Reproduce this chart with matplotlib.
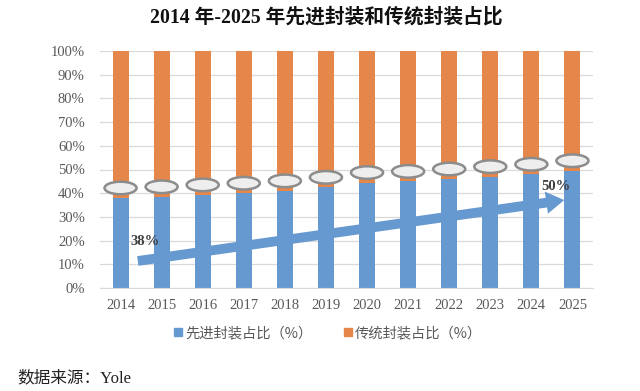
import matplotlib
matplotlib.use("Agg")
import matplotlib.pyplot as plt
from matplotlib.patches import Ellipse, FancyArrowPatch
from matplotlib.lines import Line2D
import numpy as np

years = ["2014", "2015", "2016", "2017", "2018", "2019", "2020", "2021", "2022", "2023", "2024", "2025"]
advanced = [38, 38.5, 39.3, 40, 41, 42.5, 44.5, 45, 46, 47, 48, 49.5]
traditional = [100 - a for a in advanced]
yticks = [0, 10, 20, 30, 40, 50, 60, 70, 80, 90, 100]
title = "2014 年-2025 年先进封装和传统封装占比"
legend_labels = ["先进封装占比（%）", "传统封装占比（%）"]
start_label = "38%"
end_label = "50%"
source = "数据来源：Yole"

BLUE = "#6699D0"
ORANGE = "#E5874A"
TICK = "#595959"
SERIF = ["Liberation Serif", "Noto Sans CJK SC", "DejaVu Sans"]
CJK = ["Noto Sans CJK SC", "DejaVu Sans"]

fig = plt.figure(figsize=(6.4, 3.91), dpi=100)
ax = fig.add_axes([100/640, 1-288/391, 493/640, 237/391])

x = np.arange(len(years))
ax.bar(x, advanced, width=0.39, color=BLUE, zorder=2)
ax.bar(x, traditional, bottom=advanced, width=0.39, color=ORANGE, zorder=2)

for xi, a in zip(x, advanced):
    e = Ellipse((xi, a + 4.2), width=0.78, height=5.3, facecolor="#EEEEEE",
                edgecolor="#8C8C8C", linewidth=1.8, zorder=3)
    ax.add_patch(e)

ax.set_xlim(-0.5, len(years) - 0.5)
ax.set_ylim(0, 100)
ax.set_yticks(yticks)
ax.set_yticklabels([f"{t}%" for t in yticks], family=SERIF, fontsize=10.5, color=TICK)
ax.set_xticks(x)
ax.set_xticklabels(years, family=SERIF, fontsize=10.5, color=TICK)
ax.tick_params(length=0, pad=8)
ax.tick_params(axis="y", pad=11)
ax.grid(axis="y", color="#D9D9D9", linewidth=0.9, zorder=0)
ax.set_axisbelow(True)
for s in ["top", "right", "left"]:
    ax.spines[s].set_visible(False)
ax.spines["bottom"].set_color("#D9D9D9")

arrow = FancyArrowPatch((0.42, 11.4), (10.8, 37.1),
                        arrowstyle="simple,head_length=13,head_width=16,tail_width=7",
                        mutation_scale=1, color=BLUE, shrinkA=0, shrinkB=0,
                        linewidth=0, zorder=4)
ax.add_patch(arrow)

ax.text(0.6, 19.8, start_label, ha="center", va="center", family=SERIF,
        fontsize=10.5, fontweight="bold", color="#404040", zorder=5)
ax.text(10.6, 43, end_label, ha="center", va="center", family=SERIF,
        fontsize=10.5, fontweight="bold", color="#404040", zorder=5)

fig.text(326/640, 1-17/391, title, ha="center", va="center", family=SERIF,
         fontsize=14.2, fontweight="bold", color="#111111")

handles = [Line2D([], [], marker="s", linestyle="none", color=BLUE, markersize=6),
           Line2D([], [], marker="s", linestyle="none", color=ORANGE, markersize=6)]
leg = fig.legend(handles, legend_labels, loc="center", bbox_to_anchor=(328/640, 1-333/391),
                 ncol=2, frameon=False, prop={"family": CJK, "size": 10.3},
                 handlelength=0.6, handletextpad=0.2, columnspacing=2.2)
for t in leg.get_texts():
    t.set_color(TICK)

fig.text(17/640, 1-378/391, source, ha="left", va="center", family=SERIF,
         fontsize=12, color="#222222")

fig.savefig("out.png", dpi=100)
